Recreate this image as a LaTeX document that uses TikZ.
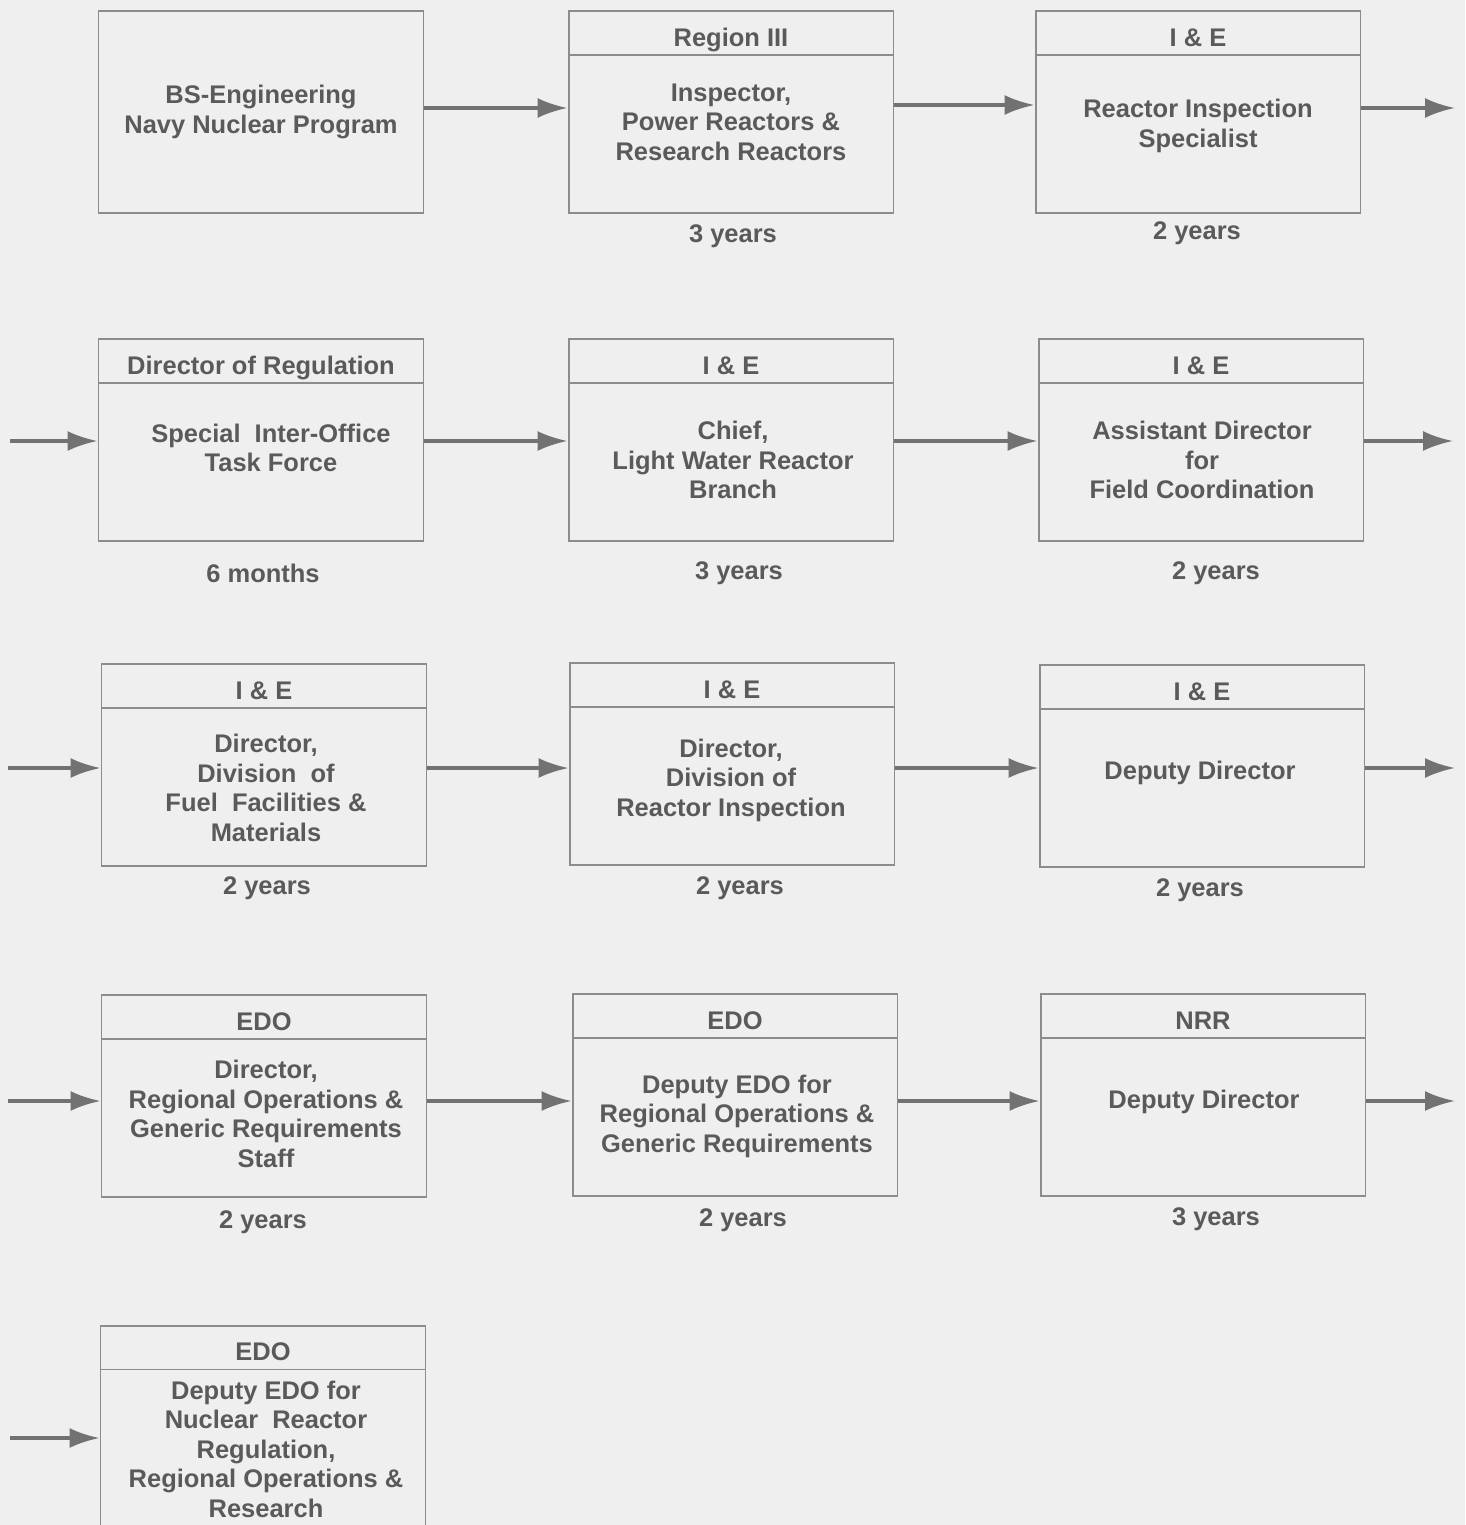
\documentclass[tikz,border=0pt]{standalone}
\usepackage{fontspec}
\setmainfont{Liberation Sans}
\usepackage{xcolor}
\usepackage{tikz}
\usetikzlibrary{arrows.meta,positioning,calc}
\definecolor{paper}{HTML}{EFEFEF}
\definecolor{boxline}{HTML}{8C8C8C}
\definecolor{inkgray}{HTML}{5A5A5A}
\definecolor{arrowgray}{HTML}{727272}
\tikzset{
  jobbox/.style={
    rectangle, draw=boxline, line width=1.1pt,
    minimum width=6.5cm, minimum height=4.04cm,
    font=\fontsize{14.5}{16.8}\selectfont\bfseries, text=inkgray,
    align=center, inner sep=0pt
  },
  headbox/.style={
    rectangle, draw=boxline, line width=1.1pt, anchor=north,
    minimum width=6.5cm, minimum height=0.88cm,
    font=\fontsize{14.5}{16.8}\selectfont\bfseries, text=inkgray,
    text height=15pt, text depth=0pt, inner sep=0pt
  },
  bodytext/.style={
    font=\fontsize{14.5}{16.8}\selectfont\bfseries, text=inkgray,
    align=center, inner sep=0pt
  },
  yearlabel/.style={
    font=\fontsize{14.5}{16.8}\selectfont\bfseries, text=inkgray,
    inner sep=0pt
  },
  flowarrow/.style={
    -{Latex[length=0.6cm,width=0.4cm]}, line width=2pt, draw=arrowgray
  },
}

\begin{document}
\begin{tikzpicture}[x=0.02cm,y=-0.02cm]
  \fill[paper] (0,0) rectangle (1465,1525);
  \useasboundingbox (0,0) rectangle (1465,1525);

  % Row 1
  \node[jobbox] (bsnavy) at (261,112) {BS-Engineering\\Navy Nuclear Program};

  \node[jobbox] (region) at (731,112) {};
  \node[headbox] (region-h) at (region.north) {Region III};
  \node[bodytext] (region-t) at (731,122)
    {Inspector,\\Power Reactors \&\\Research Reactors};
  \node[yearlabel] (region-y) at (733,236) {3 years};

  \node[jobbox] (reactor) at (1198,112) {};
  \node[headbox] (reactor-h) at (reactor.north) {I \& E};
  \node[bodytext] (reactor-t) at (1198,126) {Reactor Inspection\\Specialist};
  \node[yearlabel] (reactor-y) at (1197,233) {2 years};

  % Row 2
  \node[jobbox] (task) at (261,440) {};
  \node[headbox] (task-h) at (task.north) {Director of Regulation};
  \node[bodytext] (task-t) at (271,448) {Special\ \ Inter-Office\\Task Force};
  \node[yearlabel] (task-y) at (263,573) {6 months};

  \node[jobbox] (lwr) at (731,440) {};
  \node[headbox] (lwr-h) at (lwr.north) {I \& E};
  \node[bodytext] (lwr-t) at (733,460) {Chief,\\Light Water Reactor\\Branch};
  \node[yearlabel] (lwr-y) at (739,573) {3 years};

  \node[jobbox] (field) at (1201,440) {};
  \node[headbox] (field-h) at (field.north) {I \& E};
  \node[bodytext] (field-t) at (1202,460)
    {Assistant Director\\for\\Field Coordination};
  \node[yearlabel] (field-y) at (1216,573) {2 years};

  % Row 3
  \node[jobbox] (fuel) at (264,765) {};
  \node[headbox] (fuel-h) at (fuel.north) {I \& E};
  \node[bodytext] (fuel-t) at (266,788)
    {Director,\\Division\ \ of\\Fuel\ \ Facilities \&\\Materials};
  \node[yearlabel] (fuel-y) at (267,888) {2 years};

  \node[jobbox] (insp) at (732,764) {};
  \node[headbox] (insp-h) at (insp.north) {I \& E};
  \node[bodytext] (insp-t) at (731,780)
    {Director,\\Division of\\Reactor Inspection};
  \node[yearlabel] (insp-y) at (740,888) {2 years};

  \node[jobbox] (depie) at (1202,766) {};
  \node[headbox] (depie-h) at (depie.north) {I \& E};
  \node[bodytext] (depie-t) at (1200,773) {Deputy Director};
  \node[yearlabel] (depie-y) at (1200,890) {2 years};

  % Row 4
  \node[jobbox] (rogr) at (264,1096) {};
  \node[headbox] (rogr-h) at (rogr.north) {EDO};
  \node[bodytext] (rogr-t) at (266,1114)
    {Director,\\Regional Operations \&\\Generic Requirements\\Staff};
  \node[yearlabel] (rogr-y) at (263,1222) {2 years};

  \node[jobbox] (dedo) at (735,1095) {};
  \node[headbox] (dedo-h) at (dedo.north) {EDO};
  \node[bodytext] (dedo-t) at (737,1116)
    {Deputy EDO for\\Regional Operations \&\\Generic Requirements};
  \node[yearlabel] (dedo-y) at (743,1220) {2 years};

  \node[jobbox] (nrr) at (1203,1095) {};
  \node[headbox] (nrr-h) at (nrr.north) {NRR};
  \node[bodytext] (nrr-t) at (1204,1102) {Deputy Director};
  \node[yearlabel] (nrr-y) at (1216,1219) {3 years};

  % Row 5
  \node[jobbox, minimum height=4.1cm] (dedonrr) at (263,1428) {};
  \node[headbox] (dedonrr-h) at (dedonrr.north) {EDO};
  \node[bodytext] (dedonrr-t) at (266,1449)
    {Deputy EDO for\\Nuclear\ \ Reactor\\Regulation,\\Regional Operations \&\\Research};

  % Free ends
  \coordinate (out1) at (1455,108);
  \coordinate (in2) at (10,441);
  \coordinate (out2) at (1453,441);
  \coordinate (in3) at (8,768);
  \coordinate (out3) at (1455,768);
  \coordinate (in4) at (8,1101);
  \coordinate (out4) at (1455,1101);
  \coordinate (in5) at (10,1438);

  % Arrows
  \draw[flowarrow] (bsnavy.east |- out1) -- (region.west |- out1);
  \draw[flowarrow] ([yshift=0.14cm]region.east) -- ([yshift=0.14cm]region.east -| reactor.west);
  \draw[flowarrow] (reactor.east |- out1) -- (out1);

  \draw[flowarrow] (in2) -- (in2 -| task.west);
  \draw[flowarrow] (task.east |- in2) -- (lwr.west |- in2);
  \draw[flowarrow] (lwr.east |- in2) -- (field.west |- in2);
  \draw[flowarrow] (field.east |- out2) -- (out2);

  \draw[flowarrow] (in3) -- (in3 -| fuel.west);
  \draw[flowarrow] (fuel.east |- in3) -- (insp.west |- in3);
  \draw[flowarrow] (insp.east |- in3) -- (depie.west |- in3);
  \draw[flowarrow] (depie.east |- out3) -- (out3);

  \draw[flowarrow] (in4) -- (in4 -| rogr.west);
  \draw[flowarrow] (rogr.east |- in4) -- (dedo.west |- in4);
  \draw[flowarrow] (dedo.east |- in4) -- (nrr.west |- in4);
  \draw[flowarrow] (nrr.east |- out4) -- (out4);

  \draw[flowarrow] (in5) -- (in5 -| dedonrr.west);
\end{tikzpicture}
\end{document}
